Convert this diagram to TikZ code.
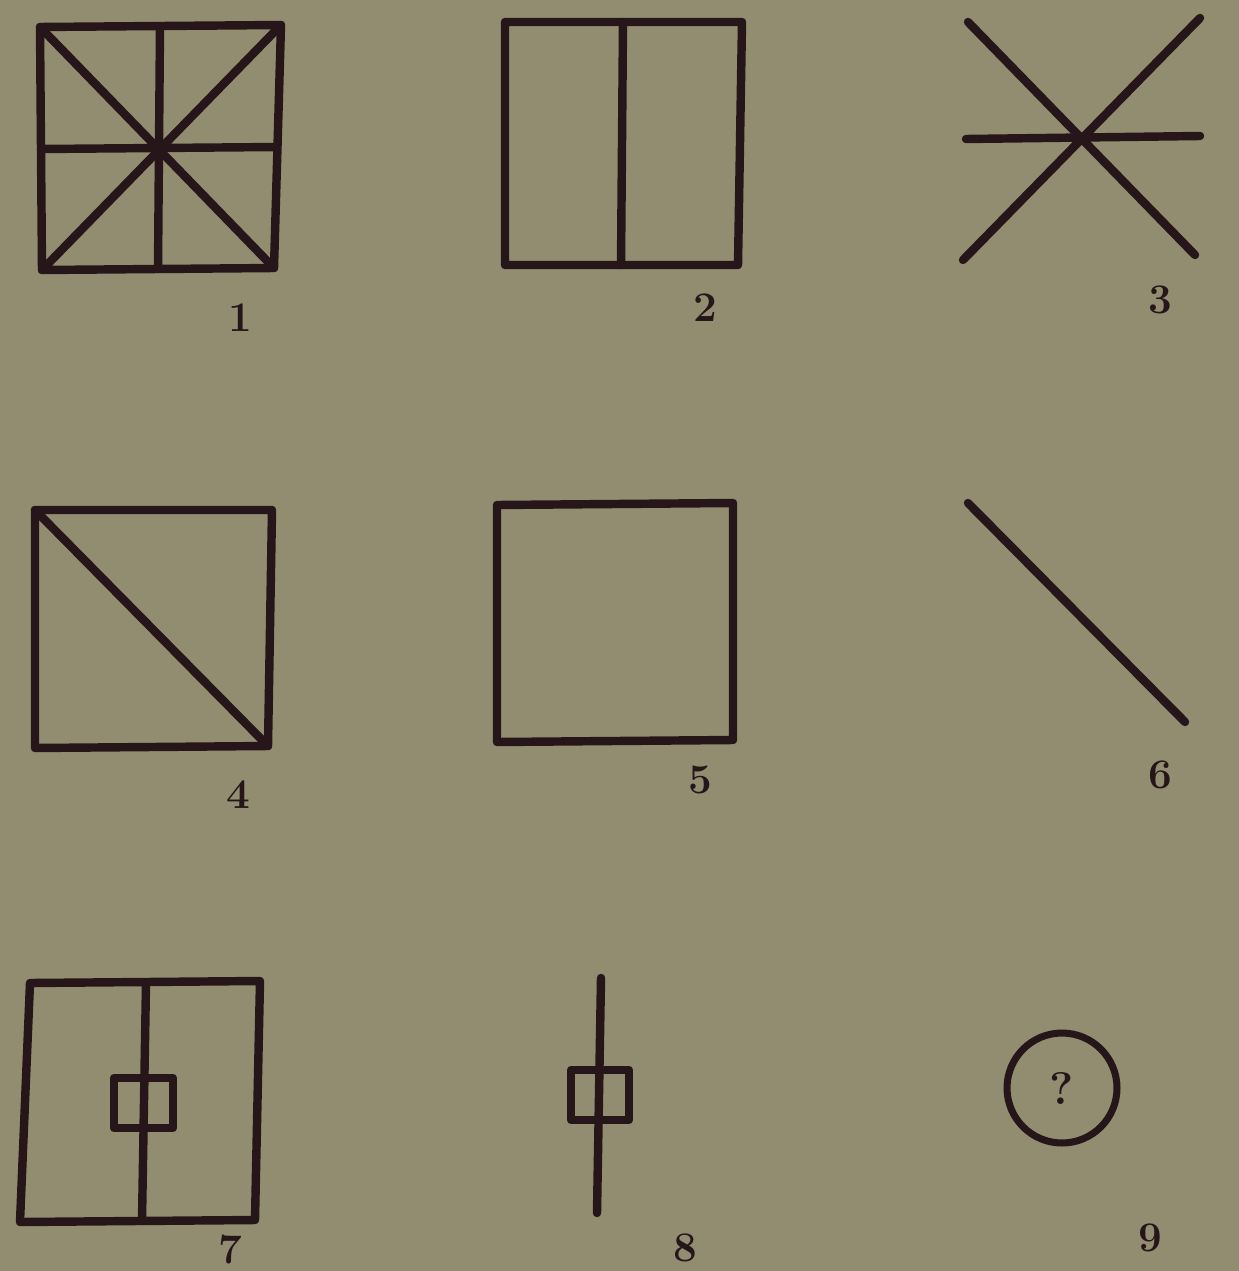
\documentclass[tikz,border=0pt]{standalone}
\usepackage{tikz}
\definecolor{paper}{RGB}{146,141,112}
\definecolor{ink}{RGB}{38,22,26}
\tikzset{
  fig/.style={draw=ink,line width=4.8pt,line join=round,line cap=round},
  numlab/.style={text=ink,font=\fontsize{24}{26}\selectfont\bfseries,inner sep=0pt}
}

\begin{document}
\begin{tikzpicture}[x=0.02cm,y=-0.02cm]
  \fill[paper] (0,0) rectangle (1239,1271);
  \useasboundingbox (0,0) rectangle (1239,1271);
  % row 1
  \draw[fig] (40,27) -- (281,25) -- (274,268) -- (42,270) -- cycle;
  \draw[fig] (160,26) -- (158,269);
  \draw[fig] (41,149) -- (277,147);
  \draw[fig] (40,27) -- (274,268);
  \draw[fig] (281,25) -- (42,270);
  \node[numlab] (n1) at (240,318) {1};
  \draw[fig] (505,22) -- (742,22) -- (738,265) -- (505,265) -- cycle;
  \draw[fig] (623,22) -- (621,265);
  \node[numlab] (n2) at (705,308) {2};
  \draw[fig] (968,22) -- (1195,255);
  \draw[fig] (1200,18) -- (963,260);
  \draw[fig] (966,139) -- (1200,136);
  \node[numlab] (n3) at (1160,300) {3};
  % row 2
  \draw[fig] (35,510) -- (272,510) -- (268,746) -- (35,748) -- cycle;
  \draw[fig] (35,510) -- (268,746);
  \node[numlab] (n4) at (238,795) {4};
  \draw[fig] (497,505) -- (733,503) -- (733,740) -- (497,742) -- cycle;
  \node[numlab] (n5) at (700,780) {5};
  \draw[fig] (968,503) -- (1185,722);
  \node[numlab] (n6) at (1160,775) {6};
  % row 3
  \draw[fig] (30,983) -- (260,981) -- (255,1220) -- (20,1222) -- cycle;
  \draw[fig] (146,983) -- (142,1221);
  \draw[fig] (114,1078) rectangle (173,1128);
  \node[numlab] (n7) at (230,1249) {7};
  \draw[fig] (601,978) -- (597,1213);
  \draw[fig] (571,1070) rectangle (629,1120);
  \node[numlab] (n8) at (685,1248) {8};
  \node[circle,draw=ink,line width=4pt,minimum size=2.2cm,text=ink,inner sep=0pt,
        font=\fontsize{26}{28}\selectfont\bfseries] (q) at (1062,1088) {?};
  \node[numlab] (n9) at (1150,1238) {9};
\end{tikzpicture}
\end{document}
